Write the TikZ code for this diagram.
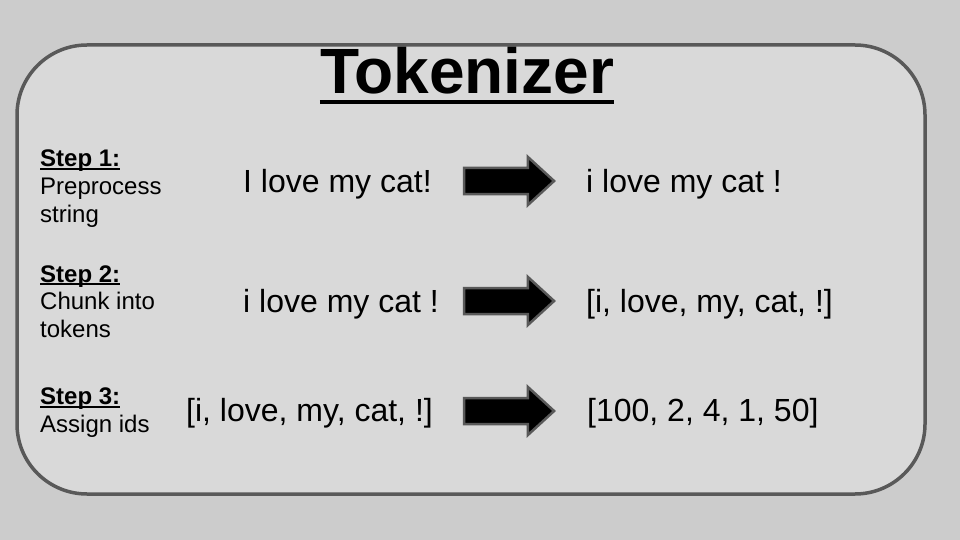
\documentclass[tikz,border=0pt]{standalone}
\usepackage{fontspec}
\setmainfont{Liberation Sans}
\usetikzlibrary{shapes.arrows}

\definecolor{pagegray}{HTML}{CCCCCC}
\definecolor{panelgray}{HTML}{D9D9D9}
\definecolor{edgegray}{HTML}{595959}

% thick underline for the step headings
\newcommand\stepline[1]{\setbox0\hbox{#1}\rlap{\rule[-3pt]{\wd0}{1.8pt}}\box0}

\tikzset{
  panel/.style={draw=edgegray, line width=3.5pt, fill=panelgray, rounded corners=70pt},
  titletext/.style={anchor=base, inner sep=0pt, font=\fontsize{64}{70}\selectfont\bfseries},
  phrase/.style={anchor=base west, inner sep=0pt, font=\fontsize{32}{38}\selectfont},
  steplabel/.style={anchor=base west, inner sep=0pt, align=left,
    font=\fontsize{24}{27.5}\selectfont},
  flow/.style={single arrow, draw=edgegray, line width=2.5pt, fill=black,
    inner sep=0pt, minimum height=90pt,
    single arrow head extend=11pt, single arrow tip angle=85,
    single arrow head indent=0pt},
}
% shaft thickness of the block arrows
\newcommand\shaft{\rule{0pt}{23.5pt}}

\begin{document}
\begin{tikzpicture}[x=1pt, y=-1pt]
  % page and panel
  \fill[pagegray] (0,0) rectangle (960,540);
  \useasboundingbox (0,0) rectangle (960,540);
  \draw[panel] (17,45) rectangle (925,494);

  % title with its underline
  \node[titletext] (title) at (467,94) {Tokenizer};
  \draw[line width=4pt] ([yshift=-8pt]title.base west) -- ([yshift=-8pt]title.base east);

  % step descriptions (placed by the baseline of their last line)
  \node[steplabel] (s1) at (40,222) {\textbf{\stepline{Step 1:}}\\Preprocess\\string};
  \node[steplabel] (s2) at (40,337) {\textbf{\stepline{Step 2:}}\\Chunk into\\tokens};
  \node[steplabel] (s3) at (40,432) {\textbf{\stepline{Step 3:}}\\Assign ids};

  % row 1
  \node[phrase] (in1) at (243,192) {I love my cat!};
  \node[flow] (a1) at (502,181) {\shaft};
  \node[phrase] (out1) at (586,192) {i love my cat !};

  % row 2
  \node[phrase] (in2) at (243,312) {i love my cat !};
  \node[flow] (a2) at (502,301) {\shaft};
  \node[phrase] (out2) at (586,312) {[i, love, my, cat, !]};

  % row 3
  \node[phrase] (in3) at (186,421) {[i, love, my, cat, !]};
  \node[flow] (a3) at (502,411) {\shaft};
  \node[phrase] (out3) at (587,421) {[100, 2, 4, 1, 50]};
\end{tikzpicture}
\end{document}
